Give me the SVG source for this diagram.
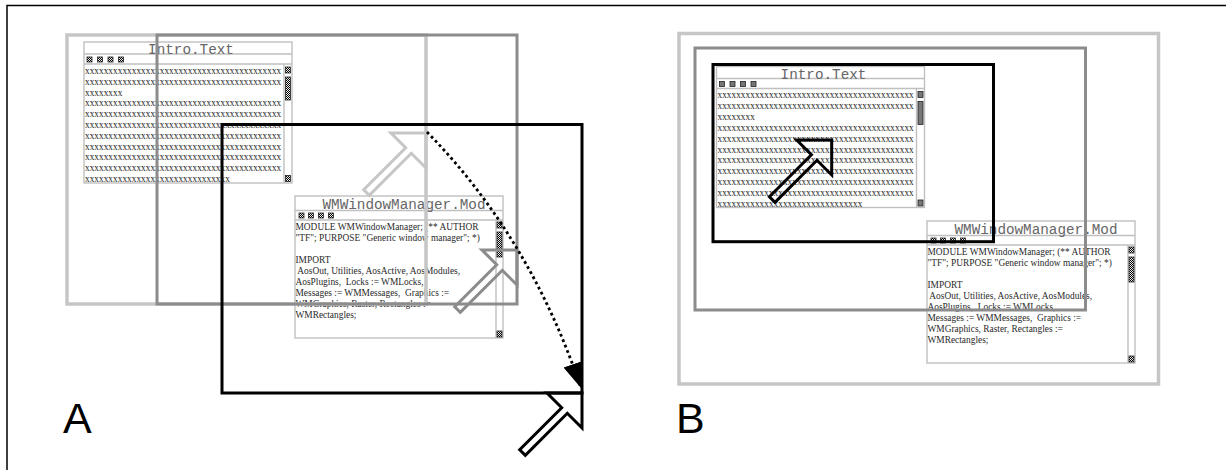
<svg xmlns="http://www.w3.org/2000/svg" width="1226" height="470" viewBox="0 0 1226 470">
<style>
.win{fill:none;stroke:#c0c0c0;stroke-width:1.4}
.ttl{font-family:"Liberation Mono",monospace;font-size:14.3px;fill:#666;text-anchor:middle}
.xs{font-family:"Liberation Serif",serif;font-size:9.35px;fill:#2a2a2a}
.src{font-family:"Liberation Serif",serif;font-size:9.4px;fill:#2a2a2a}
.ico{fill:url(#chk);stroke:#222;stroke-width:0.8}
.lg{fill:none;stroke:#c6c6c6;stroke-width:3.5}
.dg{fill:none;stroke:#8c8c8c;stroke-width:3}
.bk{fill:none;stroke:#000;stroke-width:3}
.lbl{font-family:"Liberation Sans",Arial,sans-serif;font-size:43px;fill:#000}
.dot{fill:none;stroke:#000;stroke-width:2.8;stroke-dasharray:2.8 3}
</style>
<defs>
<pattern id="chk" width="2" height="2" patternUnits="userSpaceOnUse"><rect width="2" height="2" fill="#eee"/><rect width="1" height="1" fill="#000"/><rect x="1" y="1" width="1" height="1" fill="#000"/></pattern>
<path id="cursor" d="M0,0 H-35 L-20.3,14.7 L-62.3,56.7 L-56.7,62.3 L-14.7,20.3 L0,35 Z"/>
<marker id="ah" markerUnits="userSpaceOnUse" markerWidth="26" markerHeight="22" refX="25" refY="10" orient="auto"><path d="M0,0 L25,10 L0,20 Z" fill="#000"/></marker>
</defs>
<rect width="1226" height="470" fill="#fff"/>
<path d="M7,470 V5.5 H1226" fill="none" stroke="#000" stroke-width="1.5"/>

<g id="introA" transform="translate(84,42)">
<rect class="win" x="0" y="0" width="208" height="141"/>
<path class="win" d="M0,12 H208 M0,22 H208 M200,22 V141"/>
<text class="ttl" x="107" y="12">Intro.Text</text>
<rect class="ico" x="3" y="15" width="5" height="5"/><rect class="ico" x="13.5" y="15" width="5" height="5"/><rect class="ico" x="24" y="15" width="5" height="5"/><rect class="ico" x="34.5" y="15" width="5" height="5"/>
<rect class="ico" x="201.5" y="25" width="5" height="6"/><rect class="ico" x="201.5" y="35" width="5" height="23"/><rect class="ico" x="201.5" y="133.5" width="5" height="6"/>
<text class="xs" x="1" y="31.8">xxxxxxxxxxxxxxxxxxxxxxxxxxxxxxxxxxxxxxxxxx</text>
<text class="xs" x="1" y="42.6">xxxxxxxxxxxxxxxxxxxxxxxxxxxxxxxxxxxxxxxxxx</text>
<text class="xs" x="1" y="53.5">xxxxxxxx</text>
<text class="xs" x="1" y="64.3">xxxxxxxxxxxxxxxxxxxxxxxxxxxxxxxxxxxxxxxxxx</text>
<text class="xs" x="1" y="75.1">xxxxxxxxxxxxxxxxxxxxxxxxxxxxxxxxxxxxxxxxxx</text>
<text class="xs" x="1" y="86">xxxxxxxxxxxxxxxxxxxxxxxxxxxxxxxxxxxxxxxxxx</text>
<text class="xs" x="1" y="96.8">xxxxxxxxxxxxxxxxxxxxxxxxxxxxxxxxxxxxxxxxxx</text>
<text class="xs" x="1" y="107.6">xxxxxxxxxxxxxxxxxxxxxxxxxxxxxxxxxxxxxxxxxx</text>
<text class="xs" x="1" y="118.4">xxxxxxxxxxxxxxxxxxxxxxxxxxxxxxxxxxxxxxxxxx</text>
<text class="xs" x="1" y="129.3">xxxxxxxxxxxxxxxxxxxxxxxxxxxxxxxxxxxxxxxxxx</text>
<text class="xs" x="1" y="140.1">xxxxxxxxxxxxxxxxxxxxxxxxxxxxxxx</text>
</g>

<g id="wmA" transform="translate(295,196)">
<rect class="win" x="0" y="0" width="208" height="142"/>
<path class="win" d="M0,14.5 H208 M0,24 H208 M201,24 V142"/>
<text class="ttl" x="109" y="12.5">WMWindowManager.Mod</text>
<rect class="ico" x="4" y="17" width="5" height="5"/><rect class="ico" x="13.5" y="17" width="5" height="5"/><rect class="ico" x="23.5" y="17" width="5" height="5"/><rect class="ico" x="33.5" y="17" width="5" height="5"/>
<rect class="ico" x="202" y="26" width="5" height="6"/><rect class="ico" x="202" y="36" width="5" height="25"/><rect class="ico" x="202" y="135" width="5" height="6"/>
<text class="src" x="0.5" y="33.5" xml:space="preserve">MODULE WMWindowManager; (** AUTHOR</text>
<text class="src" x="0.5" y="44.5" xml:space="preserve">"TF"; PURPOSE "Generic window manager"; *)</text>
<text class="src" x="0.5" y="66.5" xml:space="preserve">IMPORT</text>
<text class="src" x="0.5" y="77.5" xml:space="preserve"> AosOut, Utilities, AosActive, AosModules,</text>
<text class="src" x="0.5" y="88.5" xml:space="preserve">AosPlugins,  Locks := WMLocks,</text>
<text class="src" x="0.5" y="99.5" xml:space="preserve">Messages := WMMessages,  Graphics :=</text>
<text class="src" x="0.5" y="110.5" xml:space="preserve">WMGraphics, Raster, Rectangles :=</text>
<text class="src" x="0.5" y="121.5" xml:space="preserve">WMRectangles;</text>
</g>

<g id="introB" transform="translate(716.5,66.5)">
<rect class="win" x="0" y="0" width="208" height="141"/>
<path class="win" d="M0,12 H208 M0,22 H208 M200,22 V141"/>
<text class="ttl" x="107" y="12">Intro.Text</text>
<rect class="ico" x="3" y="15" width="5" height="5"/><rect class="ico" x="13.5" y="15" width="5" height="5"/><rect class="ico" x="24" y="15" width="5" height="5"/><rect class="ico" x="34.5" y="15" width="5" height="5"/>
<rect class="ico" x="201.5" y="25" width="5" height="6"/><rect class="ico" x="201.5" y="35" width="5" height="23"/><rect class="ico" x="201.5" y="133.5" width="5" height="6"/>
<text class="xs" x="1" y="31.8">xxxxxxxxxxxxxxxxxxxxxxxxxxxxxxxxxxxxxxxxxx</text>
<text class="xs" x="1" y="42.6">xxxxxxxxxxxxxxxxxxxxxxxxxxxxxxxxxxxxxxxxxx</text>
<text class="xs" x="1" y="53.5">xxxxxxxx</text>
<text class="xs" x="1" y="64.3">xxxxxxxxxxxxxxxxxxxxxxxxxxxxxxxxxxxxxxxxxx</text>
<text class="xs" x="1" y="75.1">xxxxxxxxxxxxxxxxxxxxxxxxxxxxxxxxxxxxxxxxxx</text>
<text class="xs" x="1" y="86">xxxxxxxxxxxxxxxxxxxxxxxxxxxxxxxxxxxxxxxxxx</text>
<text class="xs" x="1" y="96.8">xxxxxxxxxxxxxxxxxxxxxxxxxxxxxxxxxxxxxxxxxx</text>
<text class="xs" x="1" y="107.6">xxxxxxxxxxxxxxxxxxxxxxxxxxxxxxxxxxxxxxxxxx</text>
<text class="xs" x="1" y="118.4">xxxxxxxxxxxxxxxxxxxxxxxxxxxxxxxxxxxxxxxxxx</text>
<text class="xs" x="1" y="129.3">xxxxxxxxxxxxxxxxxxxxxxxxxxxxxxxxxxxxxxxxxx</text>
<text class="xs" x="1" y="140.1">xxxxxxxxxxxxxxxxxxxxxxxxxxxxxxx</text>
</g>

<g id="wmB" transform="translate(927,221)">
<rect class="win" x="0" y="0" width="208" height="142"/>
<path class="win" d="M0,14.5 H208 M0,24 H208 M201,24 V142"/>
<text class="ttl" x="109" y="12.5">WMWindowManager.Mod</text>
<rect class="ico" x="4" y="17" width="5" height="5"/><rect class="ico" x="13.5" y="17" width="5" height="5"/><rect class="ico" x="23.5" y="17" width="5" height="5"/><rect class="ico" x="33.5" y="17" width="5" height="5"/>
<rect class="ico" x="202" y="26" width="5" height="6"/><rect class="ico" x="202" y="36" width="5" height="25"/><rect class="ico" x="202" y="135" width="5" height="6"/>
<text class="src" x="0.5" y="33.5" xml:space="preserve">MODULE WMWindowManager; (** AUTHOR</text>
<text class="src" x="0.5" y="44.5" xml:space="preserve">"TF"; PURPOSE "Generic window manager"; *)</text>
<text class="src" x="0.5" y="66.5" xml:space="preserve">IMPORT</text>
<text class="src" x="0.5" y="77.5" xml:space="preserve"> AosOut, Utilities, AosActive, AosModules,</text>
<text class="src" x="0.5" y="88.5" xml:space="preserve">AosPlugins,  Locks := WMLocks,</text>
<text class="src" x="0.5" y="99.5" xml:space="preserve">Messages := WMMessages,  Graphics :=</text>
<text class="src" x="0.5" y="110.5" xml:space="preserve">WMGraphics, Raster, Rectangles :=</text>
<text class="src" x="0.5" y="121.5" xml:space="preserve">WMRectangles;</text>
</g>

<g id="viewsA">
<rect class="lg" x="67" y="35" width="359" height="269"/>
<rect class="dg" x="157" y="35" width="360" height="269"/>
<rect class="bk" x="222" y="124.5" width="360" height="268.5"/>
</g>
<g id="viewsB">
<rect class="lg" x="679" y="33.5" width="479.5" height="350.5"/>
<rect class="dg" x="695" y="48" width="390.5" height="262"/>
<rect class="bk" x="713" y="64.5" width="280.5" height="177.2"/>
</g>

<g id="cursorA1"><use href="#cursor" transform="translate(426,133)" fill="none" stroke="#c6c6c6" stroke-width="3"/></g>
<g id="cursorA2"><use href="#cursor" transform="translate(517,250)" fill="none" stroke="#8c8c8c" stroke-width="3"/></g>
<g id="cursorA3"><use href="#cursor" transform="translate(582,393)" fill="none" stroke="#000" stroke-width="3"/></g>
<g id="cursorB"><use href="#cursor" transform="translate(831.7,140)" fill="none" stroke="#000" stroke-width="3"/></g>

<g id="connectors">
<path class="dot" d="M427,132 Q530,237 581,388" marker-end="url(#ah)"/>
</g>

<text class="lbl" x="63" y="433">A</text>
<text class="lbl" x="676" y="433">B</text>
</svg>
